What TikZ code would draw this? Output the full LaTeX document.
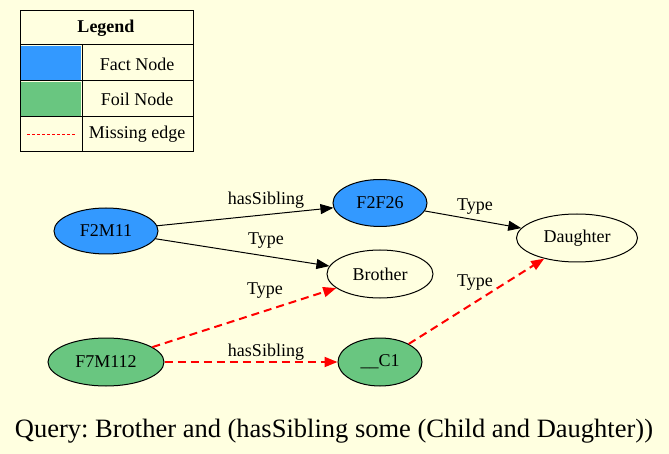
\documentclass[tikz,border=0pt]{standalone}
\usepackage{fontspec}
\setmainfont{Liberation Serif}
\usepackage{tikz}
\usetikzlibrary{
	arrows.meta,
	positioning,
	shapes.geometric
}
\definecolor{bgyellow}{HTML}{FFFFE0}
\definecolor{factblue}{HTML}{3399FF}
\definecolor{foilgreen}{HTML}{69C680}

\begin{document}
\frenchspacing
\begin{tikzpicture}[x=1pt,y=-1pt,
		ent/.style={draw, ellipse, line width=1pt, font=\fontsize{18}{20}\selectfont, inner sep=0pt},
		fact/.style={ent, fill=factblue},
		foil/.style={ent, fill=foilgreen},
		rel/.style={-{Triangle[length=13pt,width=10pt]}, line width=1pt},
		missing/.style={rel, red, dashed, dash pattern=on 8pt off 5pt, line width=2pt},
		lbl/.style={font=\fontsize{18}{20}\selectfont, inner sep=1pt},
		cell/.style={draw, line width=1pt}
	]
		\fill[bgyellow] (0,0) rectangle (669,454);
		\useasboundingbox (0,0) rectangle (669,454);

		% legend
		\draw[cell] (20,11) rectangle (193,152);
		\draw[cell] (20,45) -- (193,45);
		\draw[cell] (20,81) -- (193,81);
		\draw[cell] (20,117) -- (193,117);
		\draw[cell] (82,45) -- (82,152);
		\fill[factblue] (21,46) rectangle (81,80);
		\fill[foilgreen] (21,82) rectangle (81,116);
		\node[lbl, font=\fontsize{18}{20}\selectfont\bfseries] (legend) at (106,28) {Legend};
		\node[lbl] (factlbl) at (137,64) {Fact Node};
		\node[lbl] (foillbl) at (137,99) {Foil Node};
		\node[lbl] (misslbl) at (137,134) {Missing edge};
		\coordinate (missa) at (27,134);
		\coordinate (missb) at (76,134);
		\draw[red, dashed, dash pattern=on 3pt off 2pt, line width=0.8pt] (missa) -- (missb);

		% graph
		\node[fact, minimum width=104pt, minimum height=46pt] (F2M11) at (106,231) {F2M11};
		\node[fact, minimum width=94pt, minimum height=47pt] (F2F26) at (380,203) {F2F26};
		\node[ent, minimum width=121pt, minimum height=48pt] (Daughter) at (577,238) {Daughter};
		\node[ent, minimum width=106pt, minimum height=48pt] (Brother) at (380,274) {Brother};
		\node[foil, minimum width=116pt, minimum height=48pt] (F7M112) at (106,362) {F7M112};
		\node[foil, minimum width=84pt, minimum height=48pt] (C1) at (380,362) {\_\_C1};

		\draw[rel] (F2M11) -- (F2F26);
		\draw[rel] (F2M11) -- (Brother);
		\draw[rel] (F2F26) -- (Daughter);
		\draw[missing] (F7M112) -- (Brother);
		\draw[missing] (F7M112) -- (C1);
		\draw[missing] (C1) -- (Daughter);

		\node[lbl] (l1) at (266,200) {hasSibling};
		\node[lbl] (l2) at (266,241) {Type};
		\node[lbl] (l3) at (475,207) {Type};
		\node[lbl] (l4) at (265,291) {Type};
		\node[lbl] (l5) at (266,352) {hasSibling};
		\node[lbl] (l6) at (475,283) {Type};

		\node[font=\fontsize{26.5}{30}\selectfont] (query) at (334,431) {Query: Brother and (hasSibling some (Child and Daughter))};
	\end{tikzpicture}
\end{document}
